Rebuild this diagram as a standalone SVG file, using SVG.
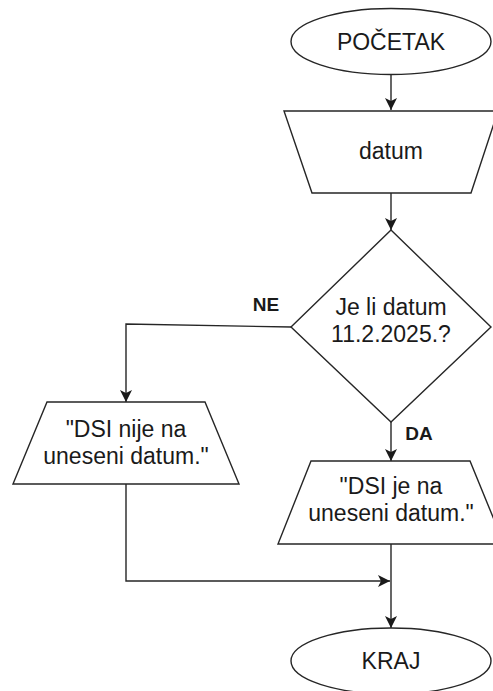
<svg xmlns="http://www.w3.org/2000/svg" width="493" height="691" viewBox="0 0 493 691">
<style>
.s{fill:#fff;stroke:#262626;stroke-width:1.4}
.c{fill:none;stroke:#262626;stroke-width:1.4}
.t{font-family:"Liberation Sans",Arial,sans-serif;font-size:23px;fill:#1a1a1a;text-anchor:middle}
.l{font-family:"Liberation Sans",Arial,sans-serif;font-size:19px;font-weight:bold;fill:#1a1a1a;text-anchor:middle}
</style>
<defs>
<marker id="a" viewBox="0 0 12 12" refX="12" refY="6" markerWidth="12" markerHeight="12" markerUnits="userSpaceOnUse" orient="auto">
<path d="M0,0 L12,6 L0,12 L3,6 z" fill="#1a1a1a"/>
</marker>
</defs>
<rect width="493" height="691" fill="#fff"/>
<g id="connectors">
<path class="c" d="M391,75 L391,110" marker-end="url(#a)"/>
<path class="c" d="M391,193 L391,230" marker-end="url(#a)"/>
<path class="c" d="M291,327 L126,324 L126,402" marker-end="url(#a)"/>
<path class="c" d="M391,422 L391,461" marker-end="url(#a)"/>
<path class="c" d="M126,484 L126,581 L390,581" marker-end="url(#a)"/>
<path class="c" d="M391,544 L391,628" marker-end="url(#a)"/>
<text class="l" x="266" y="311">NE</text>
<text class="l" x="419" y="440">DA</text>
</g>
<g id="pocetak">
<ellipse class="s" cx="391" cy="41.5" rx="100" ry="33"/>
<text class="t" x="391" y="50">POČETAK</text>
</g>
<g id="datum">
<polygon class="s" points="284,111 498,111 471,193 312,193"/>
<text class="t" x="391" y="159">datum</text>
</g>
<g id="uvjet">
<polygon class="s" points="391,230 491,327 391,422 291,327"/>
<text class="t" x="391" y="315">Je li datum</text>
<text class="t" x="391" y="342">11.2.2025.?</text>
</g>
<g id="ne">
<polygon class="s" points="47,402 205,402 239,484 13,484"/>
<text class="t" x="126" y="437">"DSI nije na</text>
<text class="t" x="126" y="464">uneseni datum."</text>
</g>
<g id="da">
<polygon class="s" points="311,461 470,461 504,544 278,544"/>
<text class="t" x="391" y="494">"DSI je na</text>
<text class="t" x="391" y="521">uneseni datum."</text>
</g>
<g id="kraj">
<ellipse class="s" cx="391" cy="661" rx="100" ry="33"/>
<text class="t" x="391" y="669">KRAJ</text>
</g>
</svg>
